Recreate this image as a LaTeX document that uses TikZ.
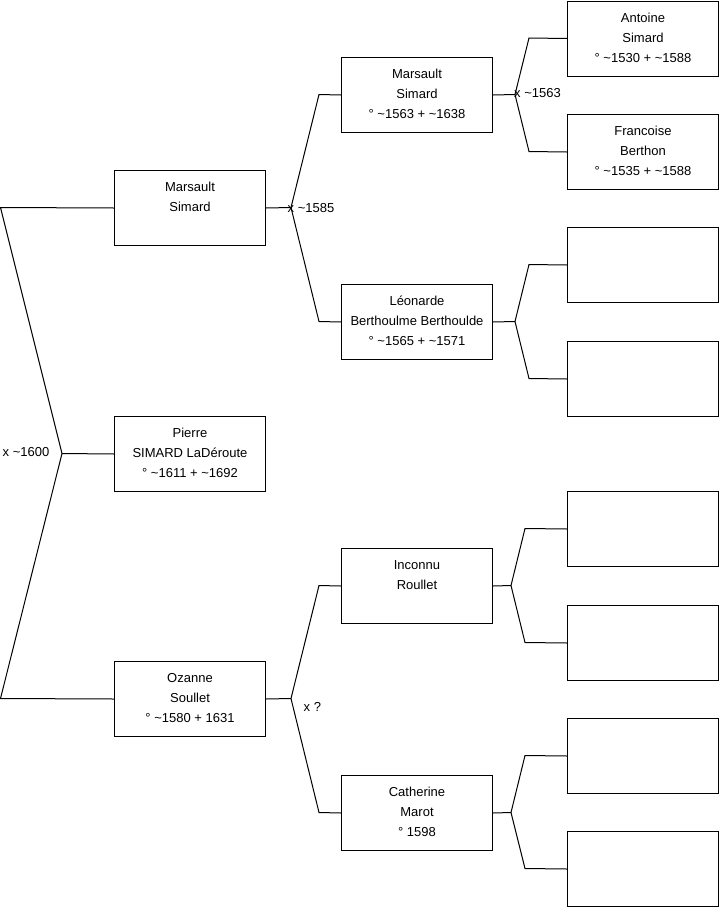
\documentclass[tikz,border=0pt]{standalone}
\usepackage{fontspec}
\setmainfont{Liberation Sans}
\newcommand\tld{\textasciitilde}
\begin{document}
\begin{tikzpicture}[x=1pt,y=-1pt,
  pbox/.style={draw=black, line width=1pt, minimum width=151pt, minimum height=75pt, inner sep=0pt, anchor=north west},
  ptext/.style={anchor=north, align=center, inner sep=0pt, font=\fontsize{13}{20}\selectfont},
  link/.style={draw=black, line width=1pt},
  mlabel/.style={anchor=west, inner sep=0pt, font=\fontsize{13}{16}\selectfont}]
\useasboundingbox (0,0) rectangle (719,908);

% boxes
\node[pbox] (L1) at (114,170) {};
\node[pbox] (L2) at (114,416) {};
\node[pbox] (L3) at (114,661) {};
\node[pbox] (M1) at (341,57) {};
\node[pbox] (M2) at (341,284) {};
\node[pbox] (M3) at (341,548) {};
\node[pbox] (M4) at (341,775) {};
\node[pbox] (R1) at (567,0.5) {};
\node[pbox] (R2) at (567,114) {};
\node[pbox] (R3) at (567,227) {};
\node[pbox] (R4) at (567,341) {};
\node[pbox] (R5) at (567,491) {};
\node[pbox] (R6) at (567,605) {};
\node[pbox] (R7) at (567,718) {};
\node[pbox] (R8) at (567,831) {};

% texts
\node[ptext] (tL1) at ([yshift=-7.5pt]L1.north) {\strut Marsault\\Simard};
\node[ptext] (tL2) at ([yshift=-7.5pt]L2.north) {\strut Pierre\\SIMARD LaDéroute\\° \tld1611 + \tld1692};
\node[ptext] (tL3) at ([yshift=-7.5pt]L3.north) {\strut Ozanne\\Soullet\\° \tld1580 + 1631};
\node[ptext] (tM1) at ([yshift=-7.5pt]M1.north) {\strut Marsault\\Simard\\° \tld1563 + \tld1638};
\node[ptext] (tM2) at ([yshift=-7.5pt]M2.north) {\strut Léonarde\\Berthoulme Berthoulde\\° \tld1565 + \tld1571};
\node[ptext] (tM3) at ([yshift=-7.5pt]M3.north) {\strut Inconnu\\Roullet};
\node[ptext] (tM4) at ([yshift=-7.5pt]M4.north) {\strut Catherine\\Marot\\° 1598};
\node[ptext] (tR1) at ([yshift=-7.5pt]R1.north) {\strut Antoine\\Simard\\° \tld1530 + \tld1588};
\node[ptext] (tR2) at ([yshift=-7.5pt]R2.north) {\strut Francoise\\Berthon\\° \tld1535 + \tld1588};

% root fork
\coordinate (r0) at (62,453.5);
\coordinate (rt) at (0.5,207.5);
\coordinate (rb) at (0.5,698.5);
\draw[link] (L1.west) -- (rt) -- (r0) -- (rb) -- (L3.west);
\draw[link] (r0) -- (L2.west);
\node[mlabel] (x1600) at (2.5,452) {x \tld1600};

% Marsault fork
\coordinate (f1) at (291,207.5);
\coordinate (f1a) at (319,94.5);
\coordinate (f1b) at (319,321.5);
\draw[link] (L1.east) -- (f1);
\draw[link] (M1.west) -- (f1a) -- (f1) -- (f1b) -- (M2.west);
\node[mlabel] (x1585) at (287.5,208) {x \tld1585};

% Ozanne fork
\coordinate (f2) at (291,698.5);
\coordinate (f2a) at (319,585.5);
\coordinate (f2b) at (319,812.5);
\draw[link] (L3.east) -- (f2);
\draw[link] (M3.west) -- (f2a) -- (f2) -- (f2b) -- (M4.west);
\node[mlabel] (xq) at (303.5,707) {x ?};

% M1 fork
\coordinate (f3) at (515,94.5);
\coordinate (f3a) at (529,38);
\coordinate (f3b) at (529,151.5);
\draw[link] (M1.east) -- (f3);
\draw[link] (R1.west) -- (f3a) -- (f3) -- (f3b) -- (R2.west);
\node[mlabel] (x1563) at (514,93) {x \tld1563};

% M2 fork
\coordinate (f4) at (515,321.5);
\coordinate (f4a) at (529,264.5);
\coordinate (f4b) at (529,378.5);
\draw[link] (M2.east) -- (f4);
\draw[link] (R3.west) -- (f4a) -- (f4) -- (f4b) -- (R4.west);

% M3 fork
\coordinate (f5) at (511,585.5);
\coordinate (f5a) at (525,528.5);
\coordinate (f5b) at (525,642.5);
\draw[link] (M3.east) -- (f5);
\draw[link] (R5.west) -- (f5a) -- (f5) -- (f5b) -- (R6.west);

% M4 fork
\coordinate (f6) at (511,812.5);
\coordinate (f6a) at (525,755.5);
\coordinate (f6b) at (525,868.5);
\draw[link] (M4.east) -- (f6);
\draw[link] (R7.west) -- (f6a) -- (f6) -- (f6b) -- (R8.west);
\end{tikzpicture}
\end{document}
